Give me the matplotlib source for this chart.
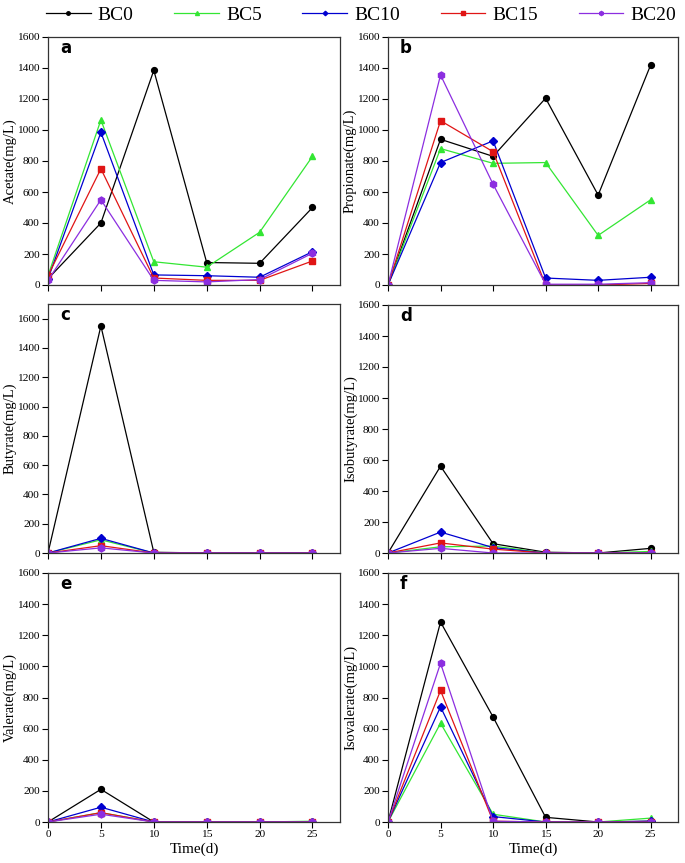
import numpy as np
import matplotlib
matplotlib.use("Agg")
import matplotlib.pyplot as plt

plt.rcParams['font.family'] = ['Liberation Serif', 'DejaVu Serif']

days = [0, 5, 10, 15, 20, 25]
groups = ['BC0', 'BC5', 'BC10', 'BC15', 'BC20']

# acid concentrations (mg/L), one list per group
acetate = {
    'BC0': [40, 400, 1385, 145, 140, 500],
    'BC5': [60, 1065, 150, 115, 340, 830],
    'BC10': [40, 985, 65, 60, 50, 215],
    'BC15': [60, 750, 45, 30, 30, 155],
    'BC20': [30, 550, 30, 20, 35, 205],
}
propionate = {
    'BC0': [0, 940, 830, 1205, 580, 1420],
    'BC5': [0, 880, 785, 790, 320, 550],
    'BC10': [0, 790, 930, 45, 30, 50],
    'BC15': [0, 1060, 860, 0, 0, 10],
    'BC20': [0, 1355, 650, 5, 5, 15],
}
butyrate = {
    'BC0': [0, 1550, 5, 0, 0, 0],
    'BC5': [0, 90, 0, 0, 0, 0],
    'BC10': [0, 100, 0, 0, 0, 0],
    'BC15': [0, 50, 0, 0, 0, 0],
    'BC20': [0, 35, 0, 0, 0, 0],
}
isobutyrate = {
    'BC0': [0, 560, 60, 5, 0, 30],
    'BC5': [0, 40, 45, 0, 0, 10],
    'BC10': [0, 135, 35, 0, 0, 0],
    'BC15': [0, 65, 25, 0, 0, 0],
    'BC20': [0, 30, 0, 0, 0, 0],
}
valerate = {
    'BC0': [0, 210, 0, 0, 0, 0],
    'BC5': [0, 60, 0, 0, 0, 5],
    'BC10': [0, 95, 0, 0, 0, 0],
    'BC15': [0, 60, 0, 0, 0, 0],
    'BC20': [0, 50, 0, 0, 0, 0],
}
isovalerate = {
    'BC0': [0, 1285, 675, 30, 0, 5],
    'BC5': [0, 635, 50, 0, 0, 25],
    'BC10': [0, 740, 35, 0, 0, 5],
    'BC15': [0, 845, 5, 0, 0, 0],
    'BC20': [0, 1020, 5, 0, 0, 0],
}

colors = {'BC0': 'black', 'BC5': '#33e633', 'BC10': '#0000d0',
          'BC15': '#e01515', 'BC20': '#8c2ee0'}
markers = {'BC0': 'o', 'BC5': '^', 'BC10': 'D', 'BC15': 's', 'BC20': 'h'}
msizes = {'BC0': 4.2, 'BC5': 4.8, 'BC10': 3.8, 'BC15': 3.8, 'BC20': 5}

panels = [
    ('a', 'Acetate(mg/L)', acetate, 1600),
    ('b', 'Propionate(mg/L)', propionate, 1600),
    ('c', 'Butyrate(mg/L)', butyrate, 1700),
    ('d', 'Isobutyrate(mg/L)', isobutyrate, 1600),
    ('e', 'Valerate(mg/L)', valerate, 1600),
    ('f', 'Isovalerate(mg/L)', isovalerate, 1600),
]

fig = plt.figure(figsize=(6.85, 8.63), dpi=100)
W, H = 685, 863
lefts = [48, 388]
widths = [292, 290]
tops = [37, 304, 573]
bottoms = [285, 553, 822]

axes = []
for i, (letter, ylabel, data, ytop) in enumerate(panels):
    r, c = divmod(i, 2)
    top = tops[r]
    bot = bottoms[r]
    if letter == 'd':
        top = 305
    ax = fig.add_axes([lefts[c] / W, 1 - bot / H, widths[c] / W, (bot - top) / H])
    for g in groups:
        ax.plot(days, data[g], color=colors[g], marker=markers[g],
                markersize=msizes[g], linewidth=0.9, label=g)
    ax.set_xlim(0, 27.6)
    ax.set_ylim(0, ytop)
    ax.set_xticks(days)
    ax.set_yticks(np.arange(0, 1601, 200))
    ax.tick_params(labelsize=8.2, length=4, width=0.8, direction='out', pad=2)
    if r < 2:
        ax.tick_params(axis='x', labelbottom=False)
    else:
        ax.set_xlabel('Time(d)', fontsize=11, labelpad=2)
    ax.set_ylabel(ylabel, fontsize=10.5)
    ax.yaxis.set_label_coords(-31 / widths[c], 0.5)
    for s in ax.spines.values():
        s.set_linewidth(0.9)
        s.set_color('#333333')
    ax.text(12 / widths[c], 1 - 11 / (bot - top), letter, transform=ax.transAxes,
            fontsize=12, fontweight='bold', family=['DejaVu Sans'],
            va='center', ha='left')
    axes.append(ax)

handles, labels = axes[0].get_legend_handles_labels()
fig.legend(handles, labels, loc='center', bbox_to_anchor=(0.527, 1 - 15 / H),
           ncol=5, frameon=False, fontsize=14, handlelength=2.3,
           columnspacing=2.1, handletextpad=0.35, markerscale=0.6)

plt.savefig('out.png', dpi=100)
